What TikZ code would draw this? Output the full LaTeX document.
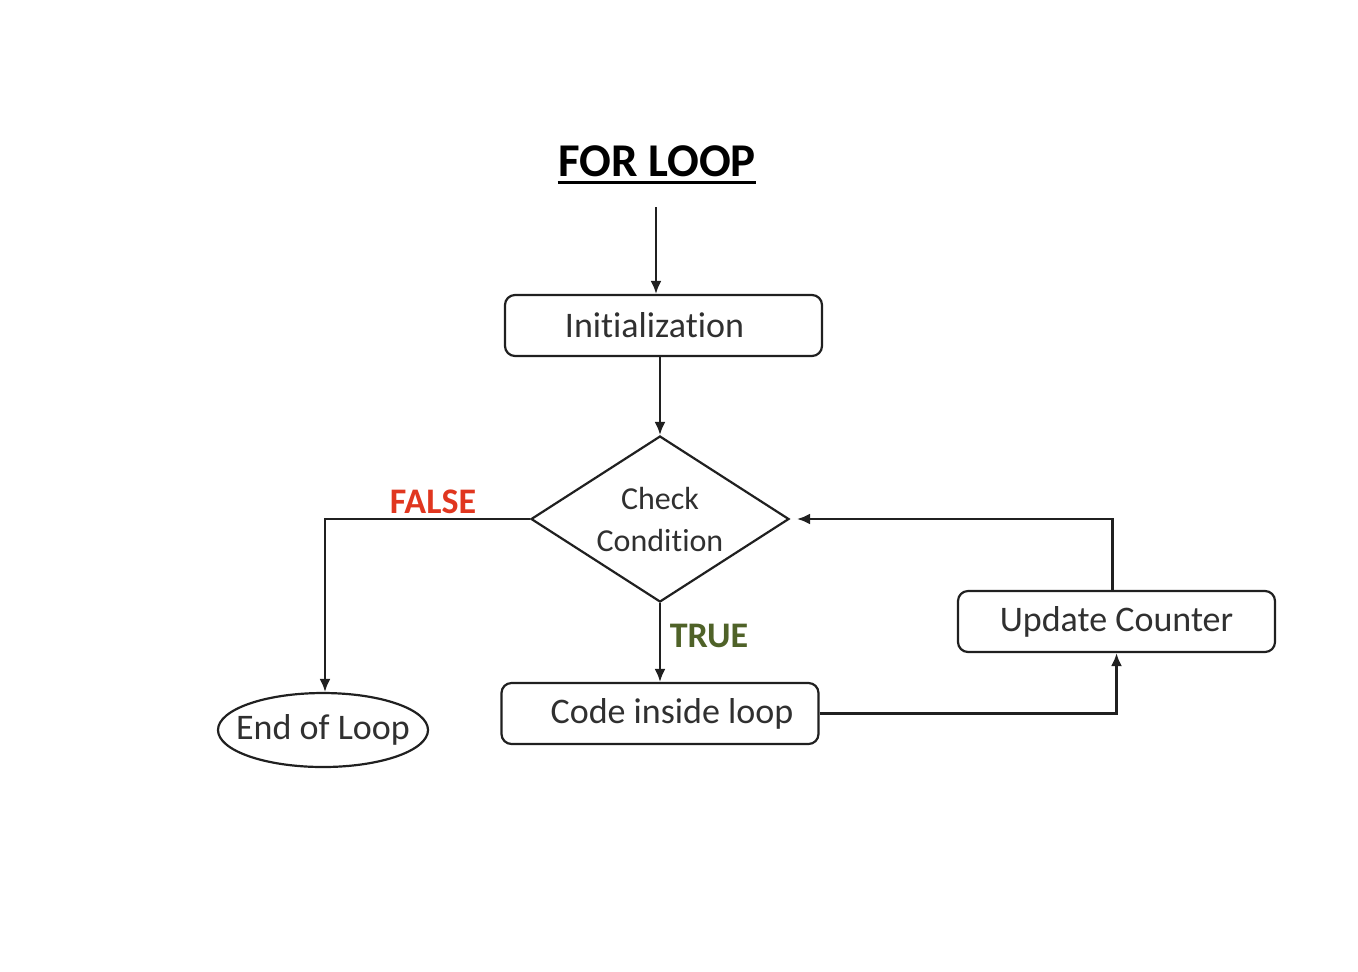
\documentclass[tikz,border=0pt]{standalone}
\usepackage{fontspec}
\setmainfont{Carlito}[Ligatures=NoCommon]
\usepackage{tikz}
\usetikzlibrary{shapes,arrows,arrows.meta,positioning,calc}
\definecolor{lpred}{HTML}{E0361F}
\definecolor{lpgreen}{HTML}{4F6228}
\definecolor{lptext}{HTML}{303030}
\definecolor{lpline}{HTML}{202020}
\tikzset{
    stepbox/.style={rectangle, rounded corners=5pt,
        draw=lpline, line width=1.1pt,
        minimum width=158.5pt, minimum height=30.5pt,
        text=lptext, font=\fontsize{18}{22}\selectfont},
    testbox/.style={diamond, aspect=1.55, inner sep=0pt,
        draw=lpline, line width=1.1pt,
        minimum width=129pt, minimum height=83pt,
        text=lptext, align=center, font=\fontsize{16}{21}\selectfont},
    stopbox/.style={ellipse, inner xsep=-7pt, inner ysep=0pt,
        draw=lpline, line width=1.1pt,
        minimum width=105pt, minimum height=37pt,
        text=lptext, font=\fontsize{18}{22}\selectfont},
    flowarrow/.style={->, >={Latex[length=6.5pt,width=5.5pt]},
        line width=1.1pt, color=lpline},
    flowlabel/.style={font=\fontsize{18}{22}\selectfont\bfseries, color=#1},
}

\begin{document}
\begin{tikzpicture}[x=0.5pt, y=-0.5pt]

    \useasboundingbox (0,0) rectangle (1358,971);

    % ── Title ──────────────────────────────────────────────────────────────
    \node[font=\fontsize{23.5}{28}\selectfont\bfseries, inner sep=0pt] (title)
        at (657,161) {FOR LOOP};
    \draw[line width=1.5pt] ([yshift=-3pt]title.south west)
        -- ([yshift=-3pt]title.south east);
    \coordinate (entry) at (656,207);

    % ── Steps ──────────────────────────────────────────────────────────────
    \node[stepbox] (init) at (663.5,325.5) {Initialization\hspace*{9pt}};
    \node[testbox] (cond) at (660,519) {Check\\Condition};
    \node[stepbox] (code) at (660,713.5) {\hspace*{12pt}Code inside loop};
    \node[stepbox] (upd) at (1116.5,621.5) {Update Counter};
    \node[stopbox] (stop) at (323,730) {End of Loop};

    % ── Arrows ─────────────────────────────────────────────────────────────
    \draw[flowarrow] (entry) -- (entry |- init.north);
    \draw[flowarrow] (cond.north |- init.south) -- (cond.north);
    \draw[flowarrow] (cond.west) -| ([xshift=1pt]stop.north);
    \draw[flowarrow] (cond.south) -- (code.north);
    \draw[flowarrow] (code.east) -| (upd.south);
    \draw[flowarrow] ([xshift=-2pt]upd.north) |- ([xshift=3.5pt]cond.east);

    % ── Branch labels ──────────────────────────────────────────────────────
    \node[flowlabel=lpred] (nolabel) at (433,502) {FALSE};
    \node[flowlabel=lpgreen] (yeslabel) at (709,636) {TRUE};

\end{tikzpicture}
\end{document}
